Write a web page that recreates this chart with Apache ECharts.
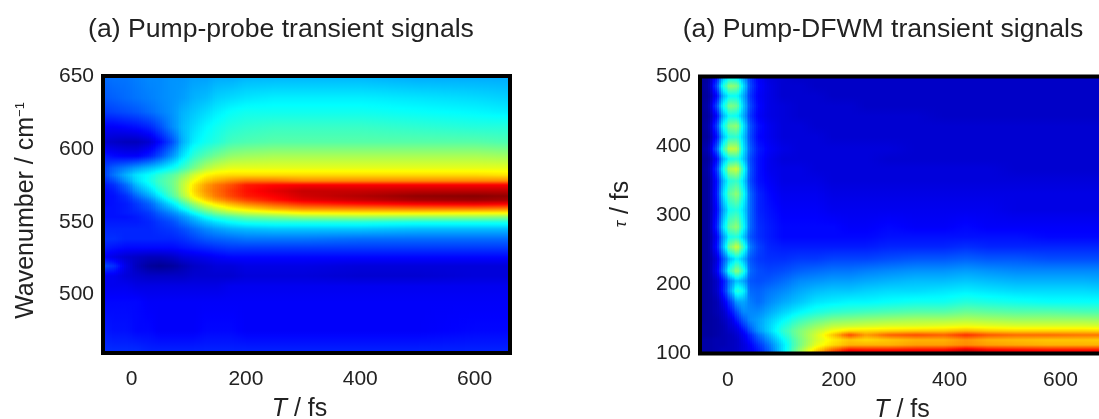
<!DOCTYPE html>
<html>
<head>
<meta charset="utf-8">
<script src="https://cdn.jsdelivr.net/npm/echarts@6/dist/echarts.min.js"></script>
<style>
  html, body { margin: 0; padding: 0; background: #fff; }
  #chart { width: 1099px; height: 419px; }
</style>
</head>
<body>
<div id="chart"></div>
<script>
// left panel: pump-probe, signal in percent of the maximum
const probeT = [-50, -30, -10, 10, 30, 50, 70, 90, 110, 130, 150, 175, 200, 250, 300, 400, 500, 600, 662]
const probeWavenumber = [650, 635, 625, 615, 605, 595, 587, 582, 578, 575, 571, 568, 565, 562, 559, 556, 553, 550, 545, 538, 532, 526, 520, 513, 506, 495, 475, 460]
const probeSignal = [
  [23, 24, 24, 25, 26, 26, 27, 27, 28, 28, 29, 29, 30, 30, 30, 30, 29, 29, 29],
  [21, 22, 23, 24, 25, 26, 27, 28, 30, 31, 33, 34, 35, 36, 36, 36, 35, 34, 33],
  [18, 19, 20, 21, 23, 25, 27, 30, 32, 34, 36, 38, 39, 39, 39, 39, 38, 37, 36],
  [12, 12, 13, 14, 16, 20, 26, 31, 34, 37, 39, 41, 42, 43, 43, 43, 42, 41, 41],
  [8, 7, 6, 6, 8, 13, 20, 30, 36, 39, 41, 44, 45, 46, 46, 46, 46, 46, 45],
  [15, 13, 12, 12, 15, 20, 27, 35, 42, 46, 49, 52, 53, 54, 54, 54, 54, 54, 53],
  [18, 22, 25, 28, 31, 34, 38, 43, 49, 55, 58, 60, 60, 60, 60, 60, 60, 60, 60],
  [18, 24, 30, 35, 38, 42, 46, 51, 58, 63, 65, 66, 66, 66, 66, 66, 66, 66, 65],
  [16, 20, 27, 34, 39, 44, 48, 55, 62, 68, 71, 74, 76, 76, 74, 74, 74, 74, 74],
  [14, 17, 23, 31, 37, 43, 48, 56, 65, 72, 76, 80, 85, 87, 88, 88, 88, 88, 88],
  [13, 15, 20, 27, 33, 40, 47, 56, 66, 73, 77, 82, 86, 90, 93, 93, 94, 94, 94],
  [13, 14, 17, 23, 29, 36, 45, 54, 64, 71, 76, 81, 85, 88, 92, 95, 98, 99, 98],
  [13, 14, 16, 20, 25, 32, 40, 49, 59, 67, 72, 77, 81, 86, 90, 93, 96, 97, 96],
  [13, 14, 15, 18, 22, 28, 35, 43, 52, 60, 65, 70, 74, 79, 83, 86, 88, 89, 88],
  [14, 14, 15, 17, 20, 25, 30, 37, 45, 52, 57, 62, 65, 70, 73, 74, 75, 75, 74],
  [14, 14, 15, 16, 18, 22, 26, 31, 38, 45, 50, 54, 57, 60, 63, 64, 64, 63, 63],
  [14, 14, 14, 15, 17, 20, 23, 27, 32, 38, 42, 45, 48, 50, 52, 53, 52, 52, 51],
  [15, 15, 15, 15, 16, 18, 20, 24, 28, 32, 35, 38, 40, 41, 41, 41, 40, 40, 40],
  [16, 16, 16, 16, 16, 17, 18, 20, 23, 26, 28, 30, 31, 32, 32, 32, 31, 31, 31],
  [17, 17, 16, 16, 16, 16, 16, 17, 19, 21, 22, 23, 24, 24, 24, 23, 23, 23, 23],
  [15, 14, 13, 13, 13, 13, 13, 14, 15, 16, 17, 18, 18, 18, 18, 18, 18, 18, 18],
  [12, 10, 8, 7, 6, 6, 7, 9, 10, 11, 12, 13, 13, 13, 13, 13, 13, 13, 13],
  [20, 17, 10, 6, 3, 2, 3, 5, 7, 8, 9, 9, 10, 10, 10, 9, 9, 9, 9],
  [11, 11, 9, 8, 7, 7, 7, 7, 8, 8, 8, 8, 9, 9, 9, 8, 8, 9, 9],
  [11, 11, 11, 10, 10, 10, 10, 10, 10, 10, 10, 11, 11, 11, 11, 11, 11, 11, 11],
  [13, 13, 13, 13, 12, 12, 12, 12, 12, 12, 12, 12, 12, 12, 12, 12, 12, 12, 12],
  [15, 14, 14, 13, 13, 12, 12, 12, 12, 13, 13, 13, 12, 12, 12, 12, 12, 13, 13],
  [17, 17, 17, 17, 16, 16, 16, 16, 16, 16, 16, 16, 16, 16, 16, 16, 16, 16, 16],
]

// right panel: pump-DFWM
const dfwmT = [-50, -35, -20, -8, 4, 16, 28, 40, 55, 75, 100, 130, 160, 190, 220, 250, 290, 340, 390, 430, 470, 520, 580, 640, 700]
const dfwmTau = [500, 486, 472, 458, 443, 429, 412, 396, 381, 367, 349, 331, 307, 283, 268, 254, 236, 219, 205, 190, 175, 160, 148, 140, 133, 127, 120, 112, 105, 100]
const dfwmSignal = [
  [2, 3, 14, 30, 36, 35, 28, 18, 12, 9, 8, 7, 7, 7, 7, 7, 7, 7, 7, 7, 7, 7, 7, 7, 7],
  [2, 4, 20, 40, 52, 50, 35, 20, 13, 10, 8, 8, 7, 7, 7, 7, 7, 7, 7, 7, 7, 7, 7, 7, 7],
  [2, 3, 13, 30, 38, 38, 30, 18, 12, 10, 8, 8, 8, 7, 7, 7, 7, 7, 7, 7, 7, 7, 7, 7, 7],
  [2, 4, 20, 38, 50, 48, 33, 20, 13, 10, 9, 8, 8, 8, 8, 7, 7, 7, 7, 7, 7, 7, 7, 7, 7],
  [2, 3, 13, 30, 39, 38, 30, 18, 12, 10, 9, 8, 8, 8, 8, 8, 8, 8, 7, 7, 7, 7, 7, 7, 7],
  [2, 4, 19, 38, 50, 52, 36, 21, 14, 11, 9, 9, 8, 8, 8, 8, 8, 8, 8, 8, 8, 8, 8, 8, 8],
  [2, 3, 14, 31, 41, 42, 33, 20, 13, 11, 9, 9, 9, 8, 8, 8, 8, 8, 8, 8, 8, 8, 8, 8, 8],
  [3, 5, 22, 42, 57, 56, 36, 22, 15, 12, 10, 9, 9, 9, 9, 9, 9, 8, 8, 8, 8, 8, 8, 8, 8],
  [2, 3, 13, 30, 39, 41, 33, 20, 14, 11, 9, 9, 9, 9, 9, 9, 8, 8, 8, 8, 8, 8, 8, 8, 8],
  [2, 4, 18, 38, 55, 58, 41, 21, 14, 11, 10, 10, 9, 9, 9, 9, 9, 9, 9, 9, 9, 8, 8, 8, 8],
  [2, 3, 14, 30, 41, 43, 35, 20, 14, 12, 10, 10, 10, 9, 9, 9, 9, 9, 9, 9, 9, 9, 9, 9, 9],
  [2, 3, 15, 34, 47, 52, 40, 23, 16, 13, 11, 11, 11, 10, 10, 10, 10, 10, 10, 10, 10, 10, 10, 10, 10],
  [2, 3, 13, 28, 39, 41, 35, 23, 16, 14, 12, 12, 12, 11, 11, 11, 11, 11, 11, 11, 11, 10, 10, 10, 10],
  [2, 3, 16, 34, 48, 52, 39, 23, 17, 15, 13, 13, 13, 13, 12, 12, 13, 12, 12, 13, 12, 12, 12, 12, 12],
  [2, 3, 12, 27, 39, 41, 33, 21, 17, 15, 13, 13, 13, 13, 13, 13, 14, 14, 14, 14, 14, 14, 13, 13, 13],
  [2, 3, 14, 30, 50, 58, 44, 25, 19, 16, 15, 15, 15, 15, 15, 15, 16, 16, 16, 17, 16, 16, 16, 16, 16],
  [2, 3, 9, 20, 31, 37, 31, 21, 18, 17, 17, 18, 18, 19, 19, 19, 20, 21, 21, 22, 21, 21, 20, 20, 20],
  [2, 3, 11, 24, 42, 52, 42, 23, 20, 19, 20, 22, 23, 24, 24, 25, 26, 27, 27, 28, 27, 26, 26, 26, 26],
  [2, 3, 7, 14, 25, 32, 29, 21, 20, 21, 23, 26, 27, 28, 28, 29, 30, 31, 31, 32, 31, 30, 30, 30, 29],
  [2, 3, 7, 15, 28, 42, 38, 23, 22, 24, 26, 29, 31, 32, 32, 33, 34, 34, 35, 36, 35, 34, 34, 34, 33],
  [2, 3, 5, 10, 18, 28, 29, 25, 23, 26, 29, 32, 35, 36, 37, 37, 38, 39, 39, 41, 40, 39, 38, 38, 38],
  [2, 3, 5, 7, 13, 20, 26, 26, 26, 29, 33, 37, 40, 42, 43, 44, 45, 46, 46, 48, 47, 46, 46, 45, 45],
  [2, 3, 4, 6, 9, 15, 21, 26, 28, 32, 37, 43, 47, 50, 51, 52, 53, 54, 54, 55, 54, 53, 53, 53, 52],
  [3, 3, 4, 5, 8, 11, 17, 23, 28, 33, 40, 47, 52, 56, 57, 58, 59, 59, 60, 61, 60, 59, 59, 59, 58],
  [3, 3, 4, 5, 7, 9, 13, 20, 27, 33, 42, 50, 56, 62, 66, 66, 67, 68, 68, 70, 68, 67, 67, 67, 66],
  [3, 3, 4, 5, 6, 8, 11, 16, 23, 30, 40, 50, 58, 68, 80, 72, 78, 80, 78, 83, 79, 77, 77, 76, 76],
  [4, 4, 5, 5, 6, 7, 10, 14, 20, 27, 37, 49, 58, 64, 68, 66, 68, 70, 70, 73, 70, 69, 68, 68, 67],
  [4, 4, 5, 5, 6, 7, 9, 12, 17, 24, 35, 49, 60, 66, 70, 70, 70, 72, 72, 74, 72, 71, 70, 70, 70],
  [4, 4, 5, 6, 6, 7, 9, 11, 15, 22, 35, 52, 66, 78, 87, 86, 86, 87, 87, 92, 88, 87, 86, 86, 86],
  [4, 5, 6, 6, 7, 8, 9, 10, 14, 21, 34, 54, 72, 85, 92, 92, 92, 92, 94, 97, 94, 92, 90, 90, 90],
]

const tTicks = [0, 200, 400, 600]
const wavenumberTicks = [500, 550, 600, 650]
const tauTicks = [100, 200, 300, 400, 500]
const jetColors = ['#00007f', '#0000ff', '#007fff', '#00ffff', '#7fff7f', '#ffff00', '#ff7f00', '#ff0000', '#7f0000']

const textColor = '#222'
const fontFamily = '"Liberation Sans", Arial, sans-serif'

const jet = (v) => echarts.color.lerp(v / 100, jetColors)
const mix = (a, b, s) => a + (b - a) * s

// one cell per grid square, with its four corner values
const buildCells = (xs, ys, rows) => {
  const cells = []
  for (let i = 0; i < ys.length - 1; i++) {
    for (let j = 0; j < xs.length - 1; j++) {
      cells.push([xs[j], ys[i], xs[j + 1], ys[i + 1], rows[i][j], rows[i][j + 1], rows[i + 1][j], rows[i + 1][j + 1]])
    }
  }
  return cells
}

// shade a cell as thin vertical strips so the map looks smooth like the original
const renderCell = (params, api) => {
  const p0 = api.coord([api.value(0), api.value(1)])
  const p1 = api.coord([api.value(2), api.value(3)])
  const x0 = Math.round(p0[0])
  const x1 = Math.round(p1[0])
  const y0 = Math.round(p0[1])
  const y1 = Math.round(p1[1])
  const n = Math.max(1, Math.round((x1 - x0) / 2))
  const children = []
  for (let k = 0; k < n; k++) {
    const s = (k + 0.5) / n
    const top = mix(api.value(4), api.value(5), s)
    const bottom = mix(api.value(6), api.value(7), s)
    const stops = [0, 0.25, 0.5, 0.75, 1].map((o) => ({ offset: o, color: jet(mix(top, bottom, o)) }))
    const left = x0 + Math.round((k * (x1 - x0)) / n)
    const right = x0 + Math.round(((k + 1) * (x1 - x0)) / n)
    children.push({
      type: 'rect',
      shape: { x: left, y: y0, width: right - left, height: y1 - y0 },
      style: { fill: new echarts.graphic.LinearGradient(0, 0, 0, 1, stops) },
      silent: true,
    })
  }
  return { type: 'group', children }
}

const axisText = { color: textColor, fontSize: 21, fontFamily }

const xAxisOf = (gridIndex, max, shift) => ({
  type: 'value',
  gridIndex,
  min: -50,
  max,
  splitLine: { show: false },
  axisLine: { show: false },
  axisTick: { show: false },
  axisLabel: { ...axisText, margin: 16, customValues: tTicks },
  name: '{i|T} / fs',
  nameLocation: 'middle',
  nameGap: 44,
  nameTextStyle: {
    ...axisText,
    fontSize: 25,
    padding: [0, shift, 0, 0],
    rich: { i: { fontStyle: 'italic', fontSize: 25, color: textColor, fontFamily } },
  },
})

const yAxisOf = (gridIndex, min, max, ticks, name, gap, shift, rich) => ({
  type: 'value',
  gridIndex,
  min,
  max,
  splitLine: { show: false },
  axisLine: { show: false },
  axisTick: { show: false },
  axisLabel: { ...axisText, margin: 9, padding: [3, 0, 0, 0], customValues: ticks },
  name,
  nameLocation: 'middle',
  nameGap: gap,
  nameTextStyle: { ...axisText, fontSize: 25, padding: [0, 0, 0, shift], rich },
})

const titleStyle = { color: textColor, fontSize: 26.6, fontWeight: 'normal', fontFamily }

const chart = echarts.init(document.getElementById('chart'), null, { renderer: 'canvas' })

chart.setOption({
  animation: false,
  backgroundColor: '#fff',
  title: [
    { text: '(a) Pump-probe transient signals', left: 276, top: 11, textAlign: 'center', textStyle: titleStyle },
    { text: '(a) Pump-DFWM transient signals', left: 878, top: 11, textAlign: 'center', textStyle: titleStyle },
  ],
  grid: [
    { left: 103, top: 76, width: 407, height: 277, show: true, z: 5, outerBoundsMode: 'none', backgroundColor: 'transparent', borderColor: '#000', borderWidth: 4 },
    { left: 700, top: 76.5, width: 416, height: 277, show: true, z: 5, outerBoundsMode: 'none', backgroundColor: 'transparent', borderColor: '#000', borderWidth: 4 },
  ],
  xAxis: [xAxisOf(0, 662, 14), xAxisOf(1, 700, 12)],
  yAxis: [
    yAxisOf(0, 460, 650, wavenumberTicks, 'Wavenumber / cm{s|−1}', 64, 8, {
      s: { fontSize: 13, color: textColor, fontFamily, padding: [0, 0, 12, 0] },
    }),
    yAxisOf(1, 100, 500, tauTicks, '{i|τ} / fs', 66, 22, {
      i: { fontStyle: 'italic', fontSize: 17, color: textColor, fontFamily },
    }),
  ],
  series: [
    {
      type: 'custom',
      xAxisIndex: 0,
      yAxisIndex: 0,
      silent: true,
      clip: true,
      encode: { x: [0, 2], y: [1, 3] },
      renderItem: renderCell,
      data: buildCells(probeT, probeWavenumber, probeSignal),
    },
    {
      type: 'custom',
      xAxisIndex: 1,
      yAxisIndex: 1,
      silent: true,
      clip: true,
      encode: { x: [0, 2], y: [1, 3] },
      renderItem: renderCell,
      data: buildCells(dfwmT, dfwmTau, dfwmSignal),
    },
  ],
})
</script>
</body>
</html>
